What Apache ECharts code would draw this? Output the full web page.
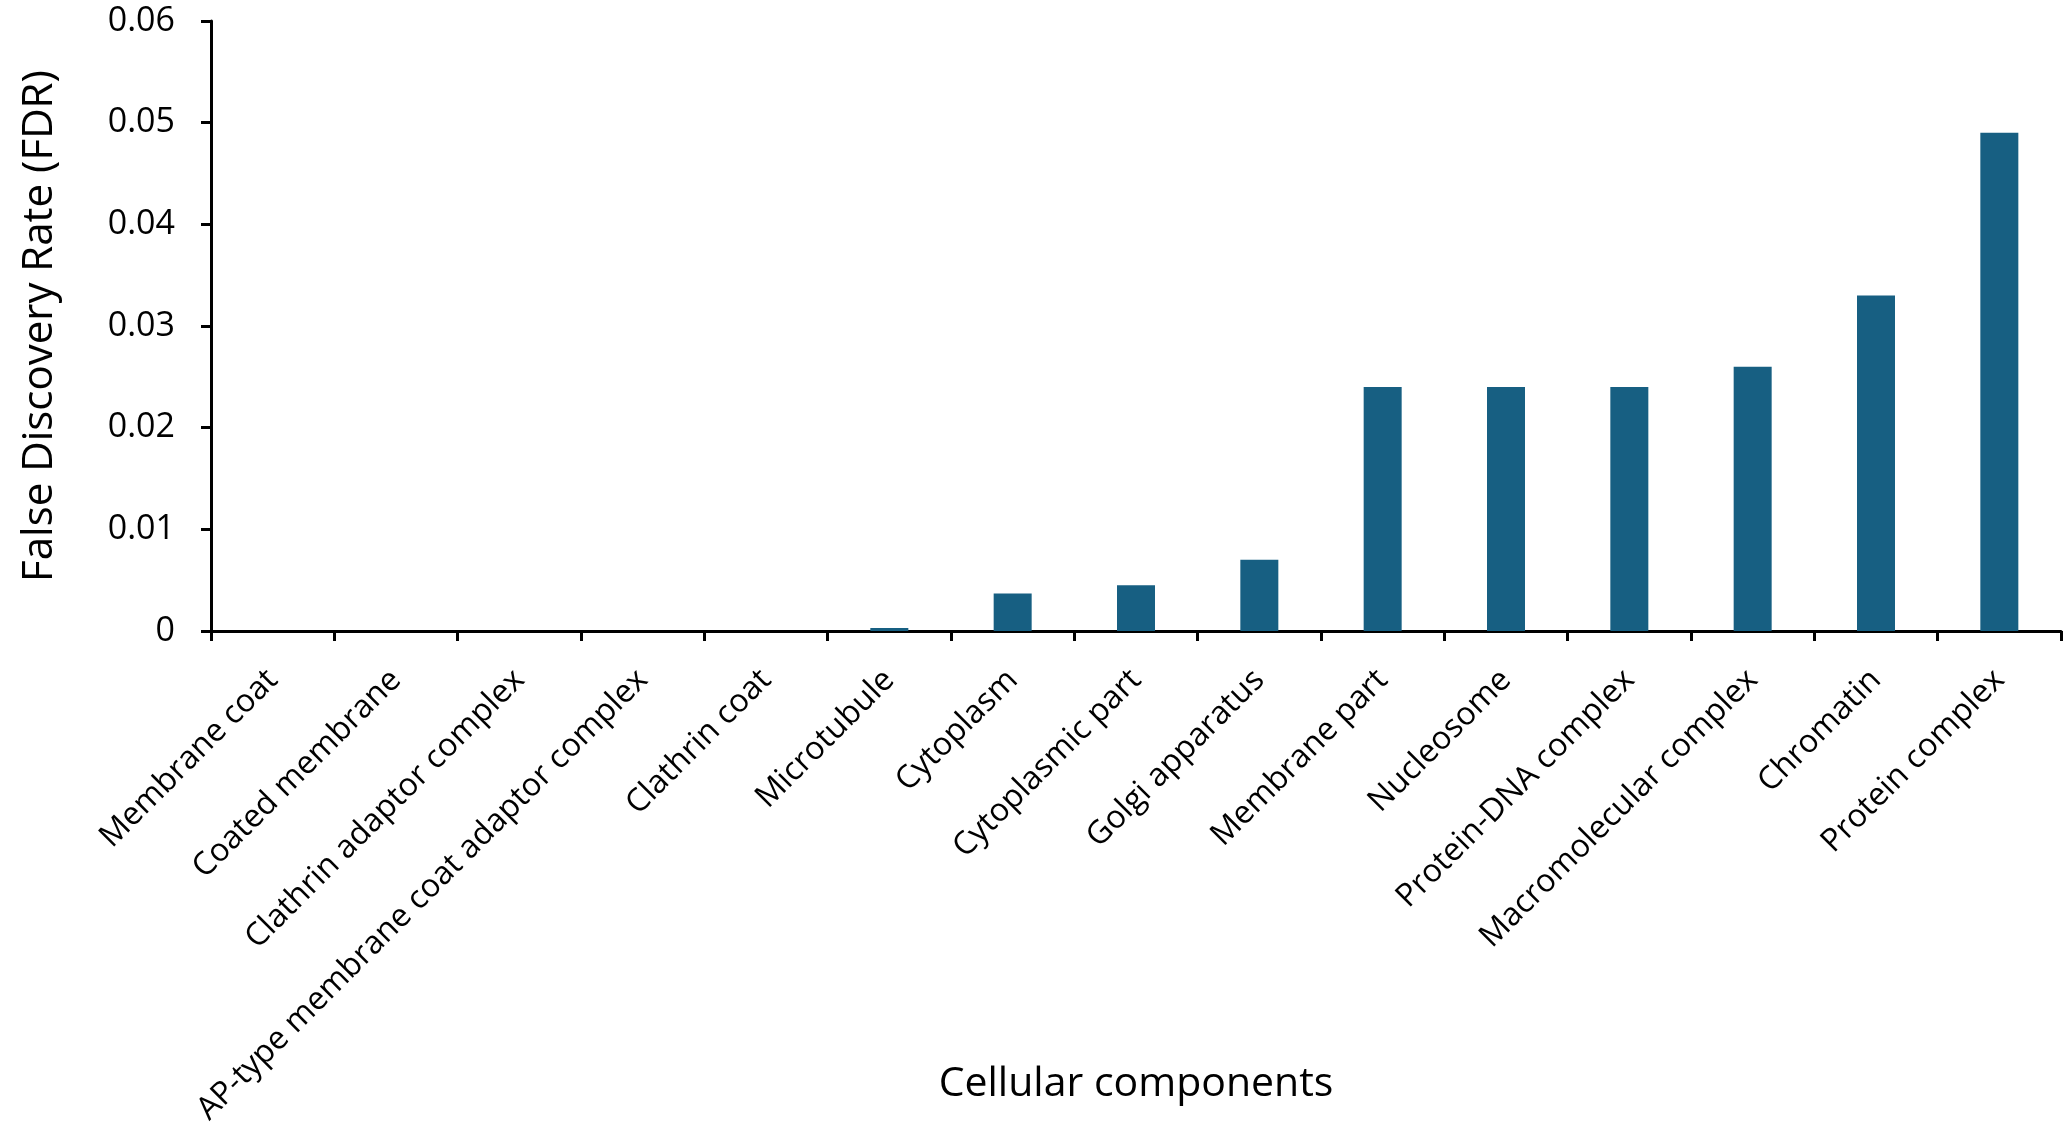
<!DOCTYPE html>
<html><head><meta charset="utf-8">
<script src="https://cdn.jsdelivr.net/npm/echarts@6/dist/echarts.min.js"></script>
<style>html,body{margin:0;padding:0;background:#fff}#c{width:2072px;height:1129px}</style>
</head><body><div id="c"></div>
<script>
const categories = ["Membrane coat","Coated membrane","Clathrin adaptor complex","AP-type membrane coat adaptor complex","Clathrin coat","Microtubule","Cytoplasm","Cytoplasmic part","Golgi apparatus","Membrane part","Nucleosome","Protein-DNA complex","Macromolecular complex","Chromatin","Protein complex"];
const fdrValues = [0,0,0,0,0,0.0003,0.0037,0.0045,0.007,0.024,0.024,0.024,0.026,0.033,0.049];
const yTicks = [0,0.01,0.02,0.03,0.04,0.05,0.06];

const chart = echarts.init(document.getElementById('c'));
const font = '"Open Sans", sans-serif';
chart.setOption({
  animation:false,
  grid:{left:211,right:11,top:21,bottom:498,containLabel:false,outerBoundsMode:'none'},
  xAxis:{type:'category',data:categories,
    name:'Cellular components',nameLocation:'middle',nameGap:433,nameMoveOverlap:false,
    nameTextStyle:{fontFamily:font,fontSize:41,color:'#000'},
    axisLine:{lineStyle:{color:'#000',width:3}},
    axisTick:{show:true,length:10,lineStyle:{color:'#000',width:3},alignWithLabel:false},
    axisLabel:{rotate:45,interval:0,fontFamily:font,fontSize:32,color:'#000',margin:44}},
  yAxis:{type:'value',min:0,max:0.06,interval:0.01,
    name:'False Discovery Rate (FDR)',nameLocation:'middle',nameGap:150,nameMoveOverlap:false,
    nameTextStyle:{fontFamily:font,fontSize:42,color:'#000'},
    axisLine:{show:true,lineStyle:{color:'#000',width:3}},
    axisTick:{show:true,length:10,lineStyle:{color:'#000',width:3}},
    splitLine:{show:false},
    axisLabel:{fontFamily:font,fontSize:34,color:'#000',margin:36,
      formatter:v=>{const t=yTicks.find(x=>Math.abs(x-v)<1e-9);return t===0?'0':String(+v.toFixed(2));}}},
  series:[{type:'bar',data:fdrValues,barWidth:38,itemStyle:{color:'#175f82'}}]
});
</script></body></html>
